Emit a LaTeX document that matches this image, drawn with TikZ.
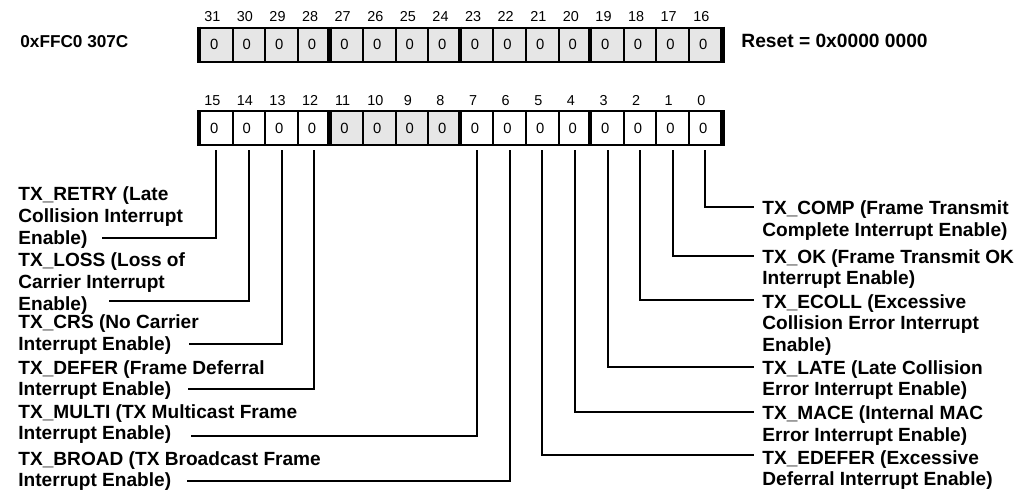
\documentclass[tikz,border=0pt]{standalone}
\usepackage{fontspec}
\setmainfont{Liberation Sans}
\setsansfont{Liberation Sans}
\usepackage{tikz}
\definecolor{regfill}{RGB}{230,230,230}

\begin{document}
\begin{tikzpicture}[
  x=0.5pt, y=-0.5pt,
  every node/.style={font=\sffamily},
  regcell/.style={draw, line width=1pt, minimum width=16.3pt, minimum height=17pt,
    inner xsep=5pt, inner ysep=0pt, text width=6.3pt, align=left,
    font=\sffamily\fontsize{7.4}{8}\selectfont},
  bitnum/.style={inner sep=0pt, font=\sffamily\fontsize{7.2}{8}\selectfont},
  group bar/.style={line width=2.2pt},
  field/.style={anchor=north west, align=left, inner sep=0pt,
    font=\sffamily\bfseries\fontsize{9.55}{10.85}\selectfont},
  leader/.style={line width=1pt},
]
  \useasboundingbox (0,0) rectangle (1018,489);

  \node[field, anchor=west, font=\sffamily\bfseries\fontsize{8.6}{10}\selectfont]
    (addr) at (20,42) {0xFFC0 307C};
  \node[field, anchor=west, font=\sffamily\bfseries\fontsize{9.6}{10}\selectfont]
    (reset) at (741,41) {Reset = 0x0000 0000};

  \foreach \i in {0,...,15} {
    \pgfmathtruncatemacro\hb{31-\i}
    \pgfmathtruncatemacro\lb{15-\i}
    \pgfmathtruncatemacro\isgray{\i>3 && \i<8}
    \ifnum\isgray=1 \def\cellfill{regfill}\else\def\cellfill{white}\fi
    \node[regcell, fill=regfill] (b\hb) at (216.3+32.6*\i, 44.7) {0};
    \node[regcell, fill=\cellfill] (b\lb) at (216.3+32.6*\i, 128) {0};
    \node[bitnum] (n\hb) at ([xshift=-2pt, yshift=5.2pt]b\hb.north) {\hb};
    \node[bitnum] (n\lb) at ([xshift=-2pt, yshift=4.8pt]b\lb.north) {\lb};
  }
  \foreach \b in {31,27,23,19,15,11,7,3}
    \draw[group bar] (b\b.north west) -- (b\b.south west);
  \foreach \b in {16,0}
    \draw[group bar] (b\b.north east) -- (b\b.south east);

  \node[field] (retry) at (18,186.7) {TX\_RETRY (Late\\Collision Interrupt\\Enable)};
  \node[field] (loss) at (18,252.7) {TX\_LOSS (Loss of\\Carrier Interrupt\\Enable)};
  \node[field] (crs) at (18,314.7) {TX\_CRS (No Carrier\\Interrupt Enable)};
  \node[field] (defer) at (18,360) {TX\_DEFER (Frame Deferral\\Interrupt Enable)};
  \node[field] (multi) at (18,404) {TX\_MULTI (TX Multicast Frame\\Interrupt Enable)};
  \node[field] (broad) at (18,451) {TX\_BROAD (TX Broadcast Frame\\Interrupt Enable)};

  \node[field] (comp) at (762,200.5) {TX\_COMP (Frame Transmit\\Complete Interrupt Enable)};
  \node[field] (ok) at (762,249) {TX\_OK (Frame Transmit OK\\Interrupt Enable)};
  \node[field] (ecoll) at (762,294) {TX\_ECOLL (Excessive\\Collision Error Interrupt\\Enable)};
  \node[field] (late) at (762,360) {TX\_LATE (Late Collision\\Error Interrupt Enable)};
  \node[field] (mace) at (762,405.5) {TX\_MACE (Internal MAC\\Error Interrupt Enable)};
  \node[field] (edefer) at (762,450) {TX\_EDEFER (Excessive\\Deferral Interrupt Enable)};

  \coordinate (retry-end) at (102,237.5);
  \coordinate (loss-end) at (109,301);
  \coordinate (crs-end) at (189,344);
  \coordinate (defer-end) at (188,389);
  \coordinate (multi-end) at (191,436);
  \coordinate (broad-end) at (187,481);
  \coordinate (comp-end) at (754,207);
  \coordinate (ok-end) at (754,256);
  \coordinate (ecoll-end) at (754,300);
  \coordinate (late-end) at (754,367);
  \coordinate (mace-end) at (754,412);
  \coordinate (edefer-end) at (754,455);

  \draw[leader] ([yshift=-2pt]b15.south) |- (retry-end);
  \draw[leader] ([yshift=-2pt]b14.south) |- (loss-end);
  \draw[leader] ([yshift=-2pt]b13.south) |- (crs-end);
  \draw[leader] ([yshift=-2pt]b12.south) |- (defer-end);
  \draw[leader] ([yshift=-2pt]b7.south) |- (multi-end);
  \draw[leader] ([yshift=-2pt]b6.south) |- (broad-end);
  \draw[leader] ([yshift=-2pt]b0.south) |- (comp-end);
  \draw[leader] ([yshift=-2pt]b1.south) |- (ok-end);
  \draw[leader] ([yshift=-2pt]b2.south) |- (ecoll-end);
  \draw[leader] ([yshift=-2pt]b3.south) |- (late-end);
  \draw[leader] ([yshift=-2pt]b4.south) |- (mace-end);
  \draw[leader] ([yshift=-2pt]b5.south) |- (edefer-end);
\end{tikzpicture}
\end{document}
